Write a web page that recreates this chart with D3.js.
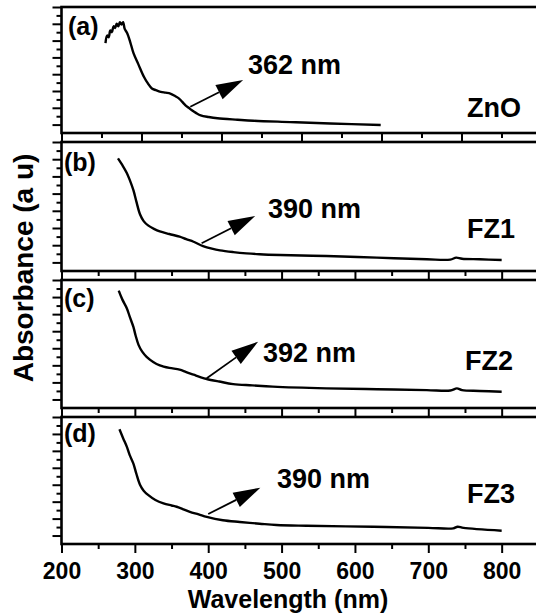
<!DOCTYPE html>
<html>
<head>
<meta charset="utf-8">
<script src="https://cdn.jsdelivr.net/npm/d3@7"></script>
<style>
body { margin: 0; background: #fff; }
svg text { font-family: "Liberation Sans", Arial, sans-serif; font-weight: bold; fill: #000; }
</style>
</head>
<body>
<div id="chart"></div>
<script>
// spectra: [wavelength nm, absorbance a.u.]
var zno = [[255,0.97],[257,1.06],[259,1.04],[261,1.12],[263,1.10],[265,1.17],[267,1.15],[269,1.20],[271,1.17],[273,1.22],[275,1.19],[277,1.22],[279,1.14],[282,1.09],[286,0.98],[290,0.85],[296,0.72],[303,0.57],[308,0.49],[313,0.43],[318,0.41],[324,0.39],[330,0.38],[336,0.37],[342,0.34],[347,0.31],[351,0.27],[355,0.23],[359,0.20],[363,0.17],[368,0.14],[374,0.11],[384,0.09],[395,0.075],[420,0.058],[440,0.046],[486,0.03],[536,0.013],[599,-0.005]];
var fz1 = [[277,1.21],[283,1.13],[289,1.04],[293,0.96],[298,0.84],[302,0.71],[307,0.56],[312,0.48],[318,0.43],[326,0.39],[334,0.36],[347,0.33],[361,0.30],[370,0.27],[380,0.24],[393,0.19],[405,0.16],[416,0.14],[434,0.12],[452,0.105],[470,0.095],[498,0.086],[561,0.074],[630,0.055],[698,0.036],[730,0.033],[738,0.055],[746,0.043],[770,0.036],[800,0.028]];
var fz2 = [[278,1.275],[283,1.17],[289,1.07],[293,0.97],[298,0.85],[301,0.75],[305,0.64],[310,0.56],[316,0.50],[325,0.44],[334,0.40],[347,0.37],[361,0.35],[370,0.32],[380,0.29],[390,0.26],[398,0.24],[415,0.21],[434,0.18],[460,0.165],[488,0.15],[561,0.13],[630,0.12],[698,0.11],[730,0.105],[739,0.13],[746,0.11],[770,0.10],[800,0.09]];
var fz3 = [[279,1.255],[284,1.15],[289,1.05],[293,0.95],[298,0.85],[302,0.73],[307,0.60],[312,0.53],[318,0.48],[328,0.42],[339,0.38],[350,0.355],[357,0.34],[366,0.31],[375,0.28],[387,0.25],[398,0.22],[420,0.18],[443,0.16],[470,0.14],[493,0.124],[534,0.115],[625,0.104],[700,0.09],[734,0.085],[740,0.104],[748,0.09],[800,0.057]];

var spectra = [zno, fz1, fz2, fz3];
var panelLetters = ["(a)", "(b)", "(c)", "(d)"];
var sampleNames = ["ZnO", "FZ1", "FZ2", "FZ3"];
var peakLabels = ["362 nm", "390 nm", "392 nm", "390 nm"];
// arrow tail (on the curve) and tip, in wavelength / absorbance
var arrowTails = [[361,0.213],[391,0.222],[398,0.248],[400,0.254]];
var arrowTips = [[427,0.531],[464,0.54],[468,0.677],[471,0.565]];
var xMajorTicks = [200, 300, 400, 500, 600, 700, 800];
var xMinorTicks = [250, 350, 450, 550, 650, 750, 850];
var yMajorTicks = [0, 0.2, 0.4, 0.6, 0.8, 1.0, 1.2, 1.4];
var yMinorTicks = [0.1, 0.3, 0.5, 0.7, 0.9, 1.1, 1.3];

var W = 536, H = 615;
var left = 61.5;
var tops = [7, 142, 280, 417];
var bottoms = [133, 271, 408, 544];
var letterY = [28, 29, 27, 25];
var nameY = [110, 96, 90, 86];
var nameX = [467, 467, 465, 467];
var peakX = [248, 268, 263, 277];
var peakY = [67, 76, 82, 71];

var svg = d3.select("#chart").append("svg")
    .attr("width", W)
    .attr("height", H);

var line = d3.line().curve(d3.curveCatmullRom.alpha(0.5));

spectra.forEach(function(data, i) {
    var top = tops[i], bottom = bottoms[i];
    // panel (a) was drawn with its own wider wavelength scale
    var x = i === 0
        ? d3.scaleLinear().domain([200, 805]).range([left, left + 0.8 * 605])
        : d3.scaleLinear().domain([200, 860]).range([left, left + 0.7336 * 660]);
    var y = d3.scaleLinear().domain([-0.1, 1.4]).range([bottom, top]);

    var g = svg.append("g");

    g.append("path")
        .datum(data)
        .attr("fill", "none")
        .attr("stroke", "#000")
        .attr("stroke-width", 2.4)
        .attr("stroke-linejoin", "round")
        .attr("d", line.x(function(d) { return x(d[0]); }).y(function(d) { return y(d[1]); }));

    // left ticks
    [[yMajorTicks, 9], [yMinorTicks, 5]].forEach(function(t) {
        g.append("g")
            .attr("transform", "translate(" + left + ",0)")
            .call(d3.axisLeft(y).tickValues(t[0]).tickSize(t[1]).tickFormat(""))
            .call(function(a) { a.select(".domain").remove(); a.selectAll("line").attr("stroke-width", 2); });
    });

    // bottom ticks, labels only on the last panel
    var xAxisMajor = d3.axisBottom(x).tickValues(xMajorTicks.filter(function(v) { return v <= x.domain()[1]; })).tickSize(9).tickPadding(10);
    if (i < 3) xAxisMajor.tickFormat("");
    g.append("g")
        .attr("transform", "translate(0," + bottom + ")")
        .call(xAxisMajor)
        .call(function(a) {
            a.select(".domain").remove();
            a.selectAll("line").attr("stroke-width", 2);
            a.selectAll("text").style("font-size", "23px").attr("fill", "#000");
        });
    g.append("g")
        .attr("transform", "translate(0," + bottom + ")")
        .call(d3.axisBottom(x).tickValues(xMinorTicks.filter(function(v) { return v <= x.domain()[1]; })).tickSize(5).tickFormat(""))
        .call(function(a) { a.select(".domain").remove(); a.selectAll("line").attr("stroke-width", 2); });

    // frame
    g.append("rect")
        .attr("x", left)
        .attr("y", top)
        .attr("width", 600)
        .attr("height", bottom - top)
        .attr("fill", "none")
        .attr("stroke", "#000")
        .attr("stroke-width", 2.6);

    // arrow
    var x0 = x(arrowTails[i][0]), y0 = y(arrowTails[i][1]);
    var x1 = x(arrowTips[i][0]), y1 = y(arrowTips[i][1]);
    var ang = Math.atan2(y1 - y0, x1 - x0);
    var headLen = 27, headHalf = 8;
    var bx = x1 - headLen * Math.cos(ang), by = y1 - headLen * Math.sin(ang);
    g.append("line")
        .attr("x1", x0).attr("y1", y0)
        .attr("x2", bx).attr("y2", by)
        .attr("stroke", "#000")
        .attr("stroke-width", 1.8);
    g.append("path")
        .attr("d", "M" + x1 + "," + y1 +
            "L" + (bx + headHalf * Math.sin(ang)) + "," + (by - headHalf * Math.cos(ang)) +
            "L" + (bx - headHalf * Math.sin(ang)) + "," + (by + headHalf * Math.cos(ang)) + "Z")
        .attr("fill", "#000");

    g.append("text")
        .attr("x", peakX[i])
        .attr("y", top + peakY[i])
        .style("font-size", "27px")
        .text(peakLabels[i]);

    g.append("text")
        .attr("x", i === 0 ? 68 : 64)
        .attr("y", top + letterY[i])
        .style("font-size", "25px")
        .text(panelLetters[i]);

    g.append("text")
        .attr("x", nameX[i])
        .attr("y", top + nameY[i])
        .style("font-size", "27px")
        .text(sampleNames[i]);
});

svg.append("text")
    .attr("x", 288)
    .attr("y", 608)
    .attr("text-anchor", "middle")
    .style("font-size", "25px")
    .text("Wavelength (nm)");

svg.append("text")
    .attr("transform", "translate(33,268) rotate(-90)")
    .attr("text-anchor", "middle")
    .style("font-size", "28px")
    .text("Absorbance (a u)");
</script>
</body>
</html>
